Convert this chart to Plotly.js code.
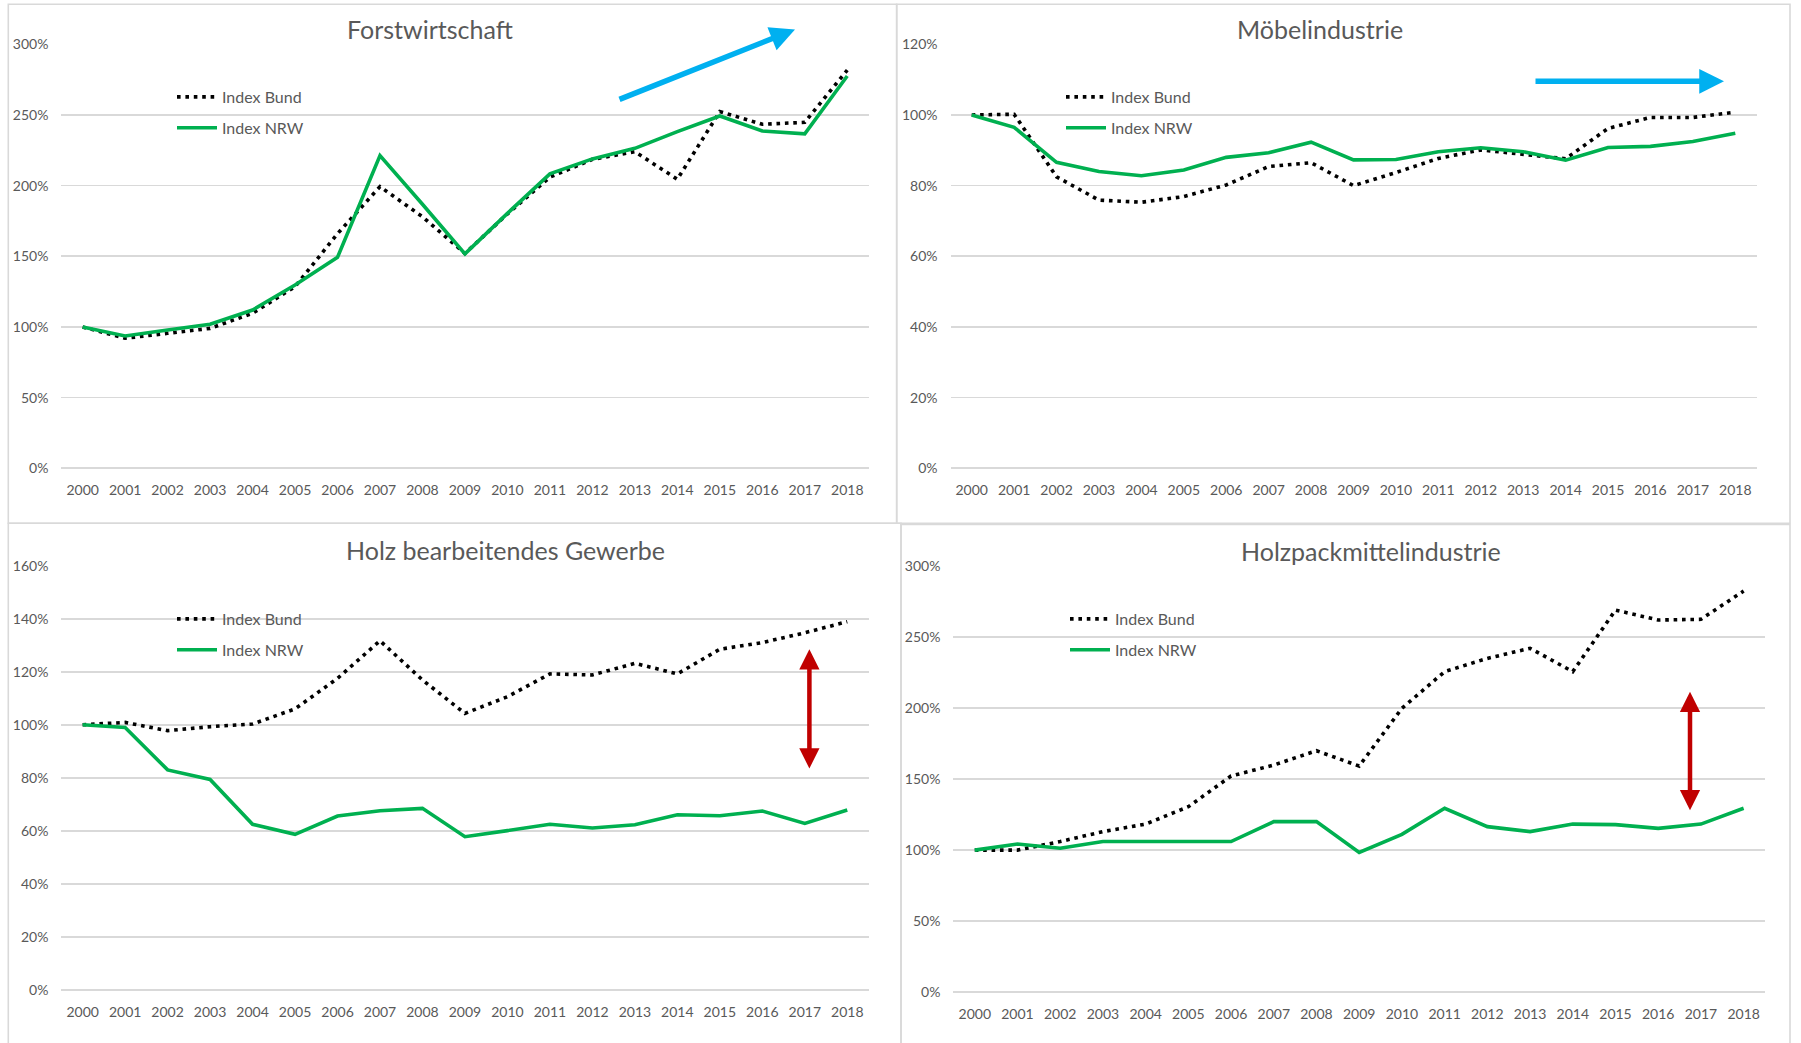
<!DOCTYPE html>
<html>
<head>
<meta charset="utf-8">
<script src="https://cdn.plot.ly/plotly-3.0.1.min.js"></script>
<style>
html,body{margin:0;padding:0;background:#fff;}
#chart{width:1801px;height:1043px;}
</style>
</head>
<body>
<div id="chart"></div>
<script>
const years = ["2000","2001","2002","2003","2004","2005","2006","2007","2008","2009","2010","2011","2012","2013","2014","2015","2016","2017","2018"];

const seriesNames = ["Index Bund", "Index NRW"];
const panelTitles = ["Forstwirtschaft", "Möbelindustrie", "Holz bearbeitendes Gewerbe", "Holzpackmittelindustrie"];

// Forstwirtschaft
const forstBund = [100, 92, 95.5, 99, 109.7, 128.5, 166, 199.3, 178, 152, 180, 206, 218.6, 224, 204.5, 252.4, 243.4, 244.8, 281.8];
const forstNRW  = [100, 93.6, 97.8, 101.9, 112, 129.7, 149.3, 221.2, 186.8, 151.7, 180.4, 208.3, 218.9, 226.4, 238.2, 249.3, 238.7, 236.6, 277.6];

// Möbelindustrie
const moebelBund = [100, 100.2, 82.5, 75.9, 75.3, 76.9, 80.2, 85.4, 86.5, 80, 83.7, 87.7, 90.1, 88.9, 87.6, 96.2, 99.3, 99.3, 100.8];
const moebelNRW  = [100, 96.5, 86.6, 84, 82.8, 84.4, 88, 89.3, 92.3, 87.3, 87.4, 89.6, 90.7, 89.6, 87.2, 90.8, 91.1, 92.5, 94.8];

// Holz bearbeitendes Gewerbe
const holzBund = [100, 100.9, 97.8, 99.3, 100.3, 106, 117.5, 131.7, 116.9, 104.3, 110.6, 119.2, 118.8, 123.2, 119.2, 128.5, 131, 134.7, 138.9];
const holzNRW  = [100, 99, 83, 79.4, 62.5, 58.7, 65.6, 67.6, 68.5, 57.8, 60.1, 62.5, 61.1, 62.3, 66.1, 65.7, 67.5, 62.8, 67.9];

// Holzpackmittelindustrie
const packBund = [100, 100, 106, 113, 118.3, 130.5, 152.1, 159.8, 169.9, 159.1, 199.7, 225.5, 234.8, 241.9, 225.5, 268.8, 261.8, 262.3, 282.2];
const packNRW  = [100, 104.3, 101.3, 106, 106, 106, 106, 120, 120, 98.4, 111.1, 129.4, 116.5, 113, 118.3, 117.9, 115.3, 118.3, 129.4];

const yMax = [300, 120, 160, 300];
const yStep = [50, 20, 20, 50];

const W = 1801, H = 1043;
const px = v => v / W;
const py = v => 1 - v / H;

const FONT = "Lato, 'Open Sans', sans-serif";
const GREY = "#595959";
const GRID = "#D9D9D9";
const GREEN = "#00B050";

const panels = [
  {bund: forstBund, nrw: forstNRW, xd: [61.4, 868.5], yd: [44.3, 468.3], title: [429.5, 29.3], leg: [172, 80]},
  {bund: moebelBund, nrw: moebelNRW, xd: [950.5, 1756.5], yd: [44.3, 468.3], title: [1319.6, 29.3], leg: [1061, 80]},
  {bund: holzBund, nrw: holzNRW, xd: [61.4, 868.5], yd: [565.7, 990], title: [505.5, 550], leg: [172, 602]},
  {bund: packBund, nrw: packNRW, xd: [953.4, 1765], yd: [565.7, 992.3], title: [1370.8, 550.7], leg: [1065, 602]}
];

const data = [];
const layout = {
  width: W, height: H,
  margin: {l: 0, r: 0, t: 0, b: 0},
  paper_bgcolor: "#ffffff",
  plot_bgcolor: "rgba(0,0,0,0)",
  font: {family: FONT, color: GREY, size: 14},
  showlegend: true,
  annotations: [],
  shapes: []
};

panels.forEach((p, i) => {
  const n = i + 1;
  const xa = "x" + (n === 1 ? "" : n);
  const ya = "y" + (n === 1 ? "" : n);
  const legKey = n === 1 ? "legend" : "legend" + n;
  data.push({
    x: years, y: p.bund, xaxis: xa, yaxis: ya, type: "scatter", mode: "lines",
    name: seriesNames[0], legend: legKey, legendgroup: "b" + n,
    line: {color: "#000000", width: 3.6, dash: "3.6px,4.8px"},
    hoverinfo: "skip"
  });
  data.push({
    x: years, y: p.nrw, xaxis: xa, yaxis: ya, type: "scatter", mode: "lines",
    name: seriesNames[1], legend: legKey, legendgroup: "n" + n,
    line: {color: GREEN, width: 3.6},
    hoverinfo: "skip"
  });
  layout["xaxis" + (n === 1 ? "" : n)] = {
    domain: [px(p.xd[0]), px(p.xd[1])],
    anchor: ya,
    type: "category",
    range: [-0.5, 18.5],
    showgrid: false, zeroline: false, showline: false,
    ticks: "", ticklabelstandoff: 12,
    tickfont: {family: FONT, size: 14, color: GREY},
    fixedrange: true
  };
  layout["yaxis" + (n === 1 ? "" : n)] = {
    domain: [py(p.yd[1]), py(p.yd[0])],
    anchor: xa,
    range: [0, yMax[i]],
    dtick: yStep[i], tick0: 0,
    ticksuffix: "%",
    showgrid: true, gridcolor: GRID, gridwidth: 1.6,
    zeroline: true, zerolinecolor: GRID, zerolinewidth: 1.6,
    showline: false, ticks: "", ticklabelstandoff: 12,
    tickfont: {family: FONT, size: 14, color: GREY},
    fixedrange: true
  };
  layout[legKey] = {
    x: px(p.leg[0]), y: py(p.leg[1]), xanchor: "left", yanchor: "top",
    bgcolor: "rgba(0,0,0,0)", borderwidth: 0,
    font: {family: FONT, size: 16, color: GREY},
    tracegroupgap: 7, itemwidth: 40, traceorder: "grouped"
  };
  layout.annotations.push({
    text: panelTitles[i], xref: "paper", yref: "paper",
    x: px(p.title[0]), y: py(p.title[1]), xanchor: "center", yanchor: "middle",
    showarrow: false, font: {family: FONT, size: 25, color: GREY}
  });
});

// decorative arrows
function arrow(tip, tail, color, width, both) {
  const a = {
    text: "", xref: "paper", yref: "paper",
    x: px(tip[0]), y: py(tip[1]),
    ax: tail[0] - tip[0], ay: tail[1] - tip[1],
    axref: "pixel", ayref: "pixel",
    showarrow: true, arrowcolor: color, arrowwidth: width,
    arrowhead: 2, arrowsize: 0.9, standoff: 0, startstandoff: 0
  };
  if (both) { a.arrowside = "end+start"; a.startarrowhead = 2; a.startarrowsize = 0.9; }
  layout.annotations.push(a);
}
arrow([795, 29.5], [618, 100], "#00B0F0", 5.5, false);
arrow([1724, 81.3], [1534, 81.3], "#00B0F0", 5.5, false);
arrow([809.4, 649.3], [809.4, 770], "#C00000", 4.5, true);
arrow([1690, 691.7], [1690, 811.7], "#C00000", 4.5, true);

// panel frames
const frames = [
  [8.3, 4.3, 896.7, 523.3],
  [896.7, 4.3, 1790, 523.3],
  [8.3, 523.3, 901, 1045],
  [901, 524.5, 1790, 1045]
];
frames.forEach(f => {
  layout.shapes.push({
    type: "rect", xref: "paper", yref: "paper",
    x0: px(f[0]), x1: px(f[2]), y0: py(f[3]), y1: py(f[1]),
    line: {color: GRID, width: 1.6}, fillcolor: "rgba(0,0,0,0)", layer: "below"
  });
});

Plotly.newPlot("chart", data, layout, {staticPlot: true, displayModeBar: false});
</script>
</body>
</html>
